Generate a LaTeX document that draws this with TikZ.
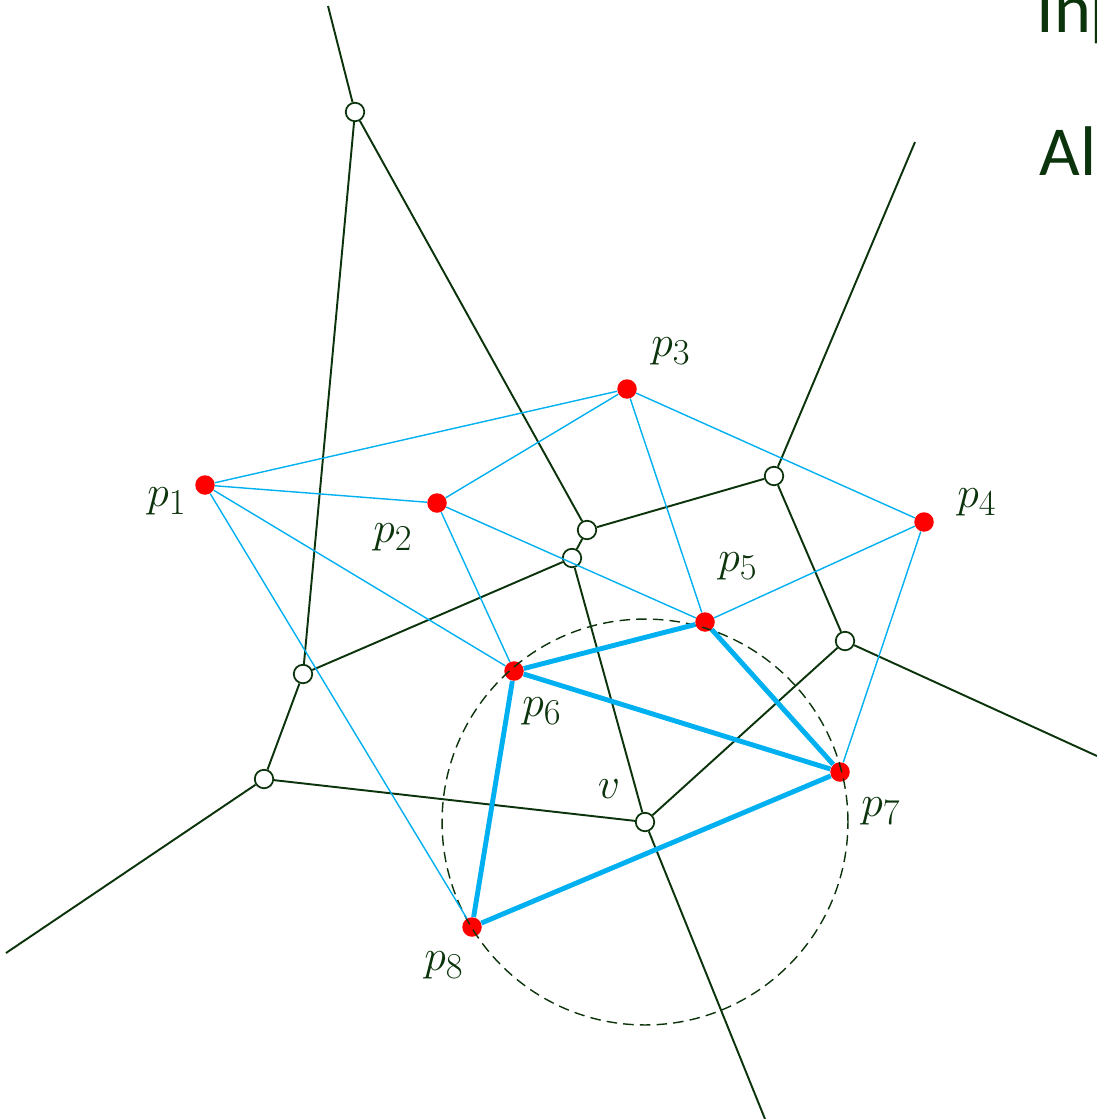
\documentclass[tikz,border=0pt]{standalone}
\usepackage{fontspec}
\setmainfont{Carlito}
\usetikzlibrary{positioning}
\definecolor{vorgreen}{RGB}{12,52,12}
\definecolor{delblue}{RGB}{0,176,240}

\begin{document}
\begin{tikzpicture}[x=0.02cm, y=-0.02cm,
        site/.style={circle, fill=red, minimum size=0.39cm, inner sep=0pt},
        vert/.style={circle, draw=vorgreen, fill=white, line width=1pt, minimum size=0.37cm, inner sep=0pt},
        vor/.style={vorgreen, line width=1.1pt},
        del/.style={delblue, line width=0.8pt},
        deltri/.style={delblue, line width=2.8pt},
        lab/.style={text=vorgreen, font=\fontsize{31}{36}\selectfont},
        head/.style={text=vorgreen, font=\fontsize{40}{48}\selectfont, anchor=base west, inner sep=0pt}]
    \useasboundingbox (0,0) rectangle (1097,1119);
    % Ueberschrift (abgeschnitten)
    \node[head] (input) at (1036,32) {Inp};
    \node[head] (algo) at (1039,175) {Al};
    % Punkte
    \foreach \name/\pos in {s1/{(205,485)}, s2/{(437,503)}, s3/{(627,389)}, s4/{(924,522)},
                            s5/{(705,622)}, s6/{(514,671)}, s7/{(840,772)}, s8/{(472,927)}}
        \node[site] (\name) at \pos {};
    % Voronoi-Knoten
    \foreach \name/\pos in {a/{(355,112)}, b/{(587,530)}, c/{(572,558)}, d/{(774,476)},
                            e/{(845,641)}, f/{(303,674)}, g/{(264,779)}, v/{(645,822)}}
        \node[vert] (\name) at \pos {};
    % Enden der unbeschraenkten Kanten
    \coordinate (ta) at (328,6);
    \coordinate (td) at (915,142);
    \coordinate (te) at (1097,756);
    \coordinate (tg) at (6,953);
    \coordinate (tv) at (765,1119);
    % Umkreis um v
    \draw[vorgreen, line width=0.8pt, dash pattern=on 6pt off 3.5pt] (v.center) circle[radius=4.06cm];
    % Voronoi-Kanten
    \draw[vor] (ta) -- (a) (a) -- (b) (a) -- (f) (b) -- (c) (b) -- (d) (d) -- (td)
        (d) -- (e) (e) -- (te) (e) -- (v) (c) -- (f) (c) -- (v) (f) -- (g)
        (g) -- (tg) (g) -- (v) (v) -- (tv);
    % Delaunay-Kanten
    \foreach \i/\j in {s1/s3, s1/s2, s1/s6, s1/s8, s2/s3, s2/s6, s2/s5, s3/s5, s3/s4, s4/s5, s4/s7}
        \draw[del] (\i) -- (\j);
    \foreach \i/\j in {s6/s5, s5/s7, s6/s7, s6/s8, s8/s7}
        \draw[deltri] (\i) -- (\j);
    % Beschriftung
    \node[lab] (l1) at (167,501) {$p_1$};
    \node[lab] (l2) at (393,537) {$p_2$};
    \node[lab] (l3) at (671,351) {$p_3$};
    \node[lab] (l4) at (977,502) {$p_4$};
    \node[lab] (l5) at (738,566) {$p_5$};
    \node[lab] (l6) at (542,711) {$p_6$};
    \node[lab] (l7) at (881,811) {$p_7$};
    \node[lab] (l8) at (444,965) {$p_8$};
    \node[lab] (lv) at (609,789) {$v$};
\end{tikzpicture}
\end{document}
